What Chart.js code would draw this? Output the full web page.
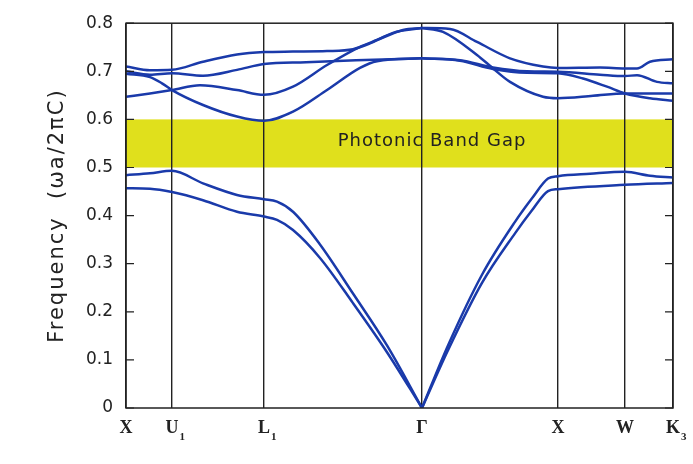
<!DOCTYPE html>
<html>
<head>
<meta charset="utf-8">
<script src="https://cdn.jsdelivr.net/npm/chart.js@4.4.1/dist/chart.umd.min.js"></script>
<style>
  html, body { margin: 0; padding: 0; background: #fff; }
  #wrap { width: 693px; height: 464px; }
</style>
</head>
<body>
<div id="wrap"><canvas id="bands"></canvas></div>
<script>
// k-path: high-symmetry points and their position along the path
const kLabels = ['X', 'U', 'L', 'Γ', 'X', 'W', 'K'];
const kSubs   = ['',  '1', '1', '',  '',  '',  '3'];
const kPos    = [0, 0.46, 1.38, 2.96, 4.32, 4.99, 5.47];
const kGamma  = 2.96;

const freqTicks = [0, 0.1, 0.2, 0.3, 0.4, 0.5, 0.6, 0.7, 0.8];
const gapRange  = [0.5, 0.6];
const gapLabel  = 'Photonic Band Gap';
const yTitle    = 'Frequency  (ωa/2πC)';

// band frequencies as [k, ωa/2πc]
const band1 = [[0, 0.457], [0.24, 0.456], [0.46, 0.449], [0.77, 0.432], [1.11, 0.408], [1.38, 0.398],
  [1.51, 0.391], [1.67, 0.370], [1.94, 0.312], [2.27, 0.218], [2.61, 0.116], [2.96, 0],
  [3.22, 0.120], [3.56, 0.260], [3.89, 0.363], [4.06, 0.411], [4.22, 0.451], [4.32, 0.455],
  [4.99, 0.464], [5.47, 0.468]];
const band2 = [[0, 0.484], [0.24, 0.488], [0.46, 0.493], [0.77, 0.467], [1.11, 0.443], [1.38, 0.434],
  [1.51, 0.429], [1.67, 0.408], [1.94, 0.340], [2.27, 0.238], [2.61, 0.130], [2.96, 0],
  [3.22, 0.130], [3.56, 0.277], [3.89, 0.387], [4.06, 0.436], [4.22, 0.477], [4.32, 0.482],
  [4.64, 0.487], [4.99, 0.491], [5.24, 0.483], [5.47, 0.479]];
const band3 = [[0, 0.647], [0.24, 0.654], [0.46, 0.661], [0.74, 0.671], [1.11, 0.661], [1.38, 0.651],
  [1.67, 0.668], [2.01, 0.713], [2.34, 0.751], [2.51, 0.765], [2.77, 0.786], [2.96, 0.790],
  [3.17, 0.782], [3.51, 0.734], [3.67, 0.706], [3.84, 0.678], [4.17, 0.647], [4.32, 0.644],
  [4.67, 0.649], [4.99, 0.654], [5.47, 0.654]];
const band4 = [[0, 0.695], [0.24, 0.688], [0.36, 0.675], [0.46, 0.661], [0.77, 0.630], [1.11, 0.606],
  [1.38, 0.597], [1.67, 0.616], [2.01, 0.661], [2.34, 0.707], [2.51, 0.721], [2.96, 0.727],
  [3.34, 0.722], [3.67, 0.705], [4.01, 0.697], [4.32, 0.696], [4.57, 0.685], [4.81, 0.668],
  [4.99, 0.654], [5.24, 0.644], [5.47, 0.639]];
const band5 = [[0, 0.700], [0.24, 0.693], [0.46, 0.696], [0.77, 0.691], [1.11, 0.703], [1.38, 0.715],
  [1.80, 0.719], [2.30, 0.723], [2.96, 0.727], [3.34, 0.723], [3.67, 0.708], [4.01, 0.700],
  [4.32, 0.699], [4.74, 0.693], [4.99, 0.690], [5.11, 0.692], [5.31, 0.678], [5.47, 0.675]];
const band6 = [[0, 0.710], [0.24, 0.702], [0.46, 0.703], [0.77, 0.720], [1.11, 0.735], [1.38, 0.740],
  [1.67, 0.741], [2.01, 0.742], [2.27, 0.746], [2.44, 0.758], [2.67, 0.780], [2.96, 0.790],
  [3.24, 0.788], [3.51, 0.761], [3.84, 0.727], [4.17, 0.710], [4.32, 0.707], [4.74, 0.708],
  [4.99, 0.706], [5.11, 0.706], [5.24, 0.720], [5.47, 0.725]];

const bands = [band1, band2, band3, band4, band5, band6];
const lineColor = '#1a3aaa';
const inkColor = '#222';

// each band is split at Γ so the cusp stays sharp
const datasets = [];
bands.forEach((b, i) => {
  const left = b.filter(p => p[0] <= kGamma).map(p => ({ x: p[0], y: p[1] }));
  const right = b.filter(p => p[0] >= kGamma).map(p => ({ x: p[0], y: p[1] }));
  [left, right].forEach(part => {
    datasets.push({
      label: 'band ' + (i + 1),
      data: part,
      borderColor: lineColor,
      borderWidth: 2.5,
      pointRadius: 0,
      fill: false,
      cubicInterpolationMode: 'monotone'
    });
  });
});

const bandPlot = {
  id: 'bandPlot',
  beforeDraw(chart) {
    const { ctx, chartArea: a, scales: { x, y } } = chart;
    ctx.save();
    ctx.fillStyle = '#fff';
    ctx.fillRect(a.left, a.top, a.right - a.left, a.bottom - a.top);
    // band gap strip
    const yTop = y.getPixelForValue(gapRange[1]);
    const yBot = y.getPixelForValue(gapRange[0]);
    ctx.fillStyle = '#e0e01c';
    ctx.fillRect(a.left, yTop, a.right - a.left, yBot - yTop);
    ctx.fillStyle = inkColor;
    ctx.font = '18px "DejaVu Sans"';
    ctx.letterSpacing = '1px';
    ctx.textAlign = 'center';
    ctx.textBaseline = 'middle';
    ctx.fillText(gapLabel, x.getPixelForValue(kGamma) + 10, (yTop + yBot) / 2 - 2);

    // axis title, rotated
    ctx.letterSpacing = '2px';
    ctx.font = '21px "DejaVu Sans"';
    ctx.translate(a.left - 68, (a.top + a.bottom) / 2);
    ctx.rotate(-Math.PI / 2);
    ctx.fillText(yTitle, 0, 0);
    ctx.restore();
  },
  afterDatasetsDraw(chart) {
    const { ctx, chartArea: a, scales: { x, y } } = chart;
    ctx.save();
    ctx.strokeStyle = inkColor;
    ctx.lineWidth = 1.5;
    ctx.strokeRect(a.left, a.top, a.right - a.left, a.bottom - a.top);
    // inward tick marks on both sides
    ctx.lineWidth = 1.2;
    freqTicks.forEach(v => {
      const py = y.getPixelForValue(v);
      ctx.beginPath();
      ctx.moveTo(a.left, py); ctx.lineTo(a.left + 8, py);
      ctx.moveTo(a.right, py); ctx.lineTo(a.right - 8, py);
      ctx.stroke();
    });
    // symmetry point labels with subscripts
    ctx.fillStyle = inkColor;
    ctx.textBaseline = 'alphabetic';
    kPos.forEach((k, i) => {
      const px = x.getPixelForValue(k);
      ctx.font = 'bold 18px "Liberation Serif"';
      ctx.textAlign = 'center';
      ctx.fillText(kLabels[i], px, a.bottom + 25);
      if (kSubs[i]) {
        const w = ctx.measureText(kLabels[i]).width;
        ctx.font = 'bold 11px "Liberation Serif"';
        ctx.textAlign = 'left';
        ctx.fillText(kSubs[i], px + w / 2 + 1, a.bottom + 32);
      }
    });
    ctx.restore();
  }
};

new Chart(document.getElementById('bands'), {
  type: 'line',
  data: { datasets },
  plugins: [bandPlot],
  options: {
    responsive: true,
    maintainAspectRatio: false,
    animation: false,
    layout: { padding: { top: 23, right: 20, left: 0, bottom: 0 } },
    plugins: { legend: { display: false }, tooltip: { enabled: false } },
    scales: {
      x: {
        type: 'linear',
        min: 0,
        max: kPos[kPos.length - 1],
        afterBuildTicks: s => { s.ticks = kPos.map(v => ({ value: v })); },
        afterFit: s => { s.height = 56; },
        ticks: { display: false },
        grid: { color: inkColor, lineWidth: 1.4, drawTicks: false },
        border: { display: false }
      },
      y: {
        min: 0,
        max: 0.8,
        afterBuildTicks: s => { s.ticks = freqTicks.map(v => ({ value: v })); },
        afterFit: s => { s.width = 126; },
        ticks: {
          color: inkColor,
          padding: 13,
          font: { family: 'DejaVu Sans', size: 17 },
          callback: v => (v === 0 ? '0' : v.toFixed(1))
        },
        grid: { display: false, drawTicks: false },
        border: { display: false }
      }
    }
  }
});
</script>
</body>
</html>
